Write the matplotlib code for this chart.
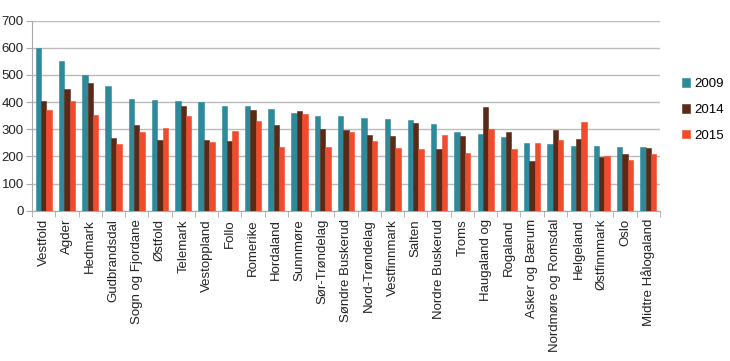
import numpy as np
import matplotlib.pyplot as plt

plt.rcParams['font.family'] = ['Liberation Sans', 'DejaVu Sans']

# Regions and values
regions = ["Vestfold", "Agder", "Hedmark", "Gudbrandsdal", "Sogn og Fjordane",
           "Østfold", "Telemark", "Vestoppland", "Follo", "Romerike", "Hordaland",
           "Sunnmøre", "Sør-Trøndelag", "Søndre Buskerud", "Nord-Trøndelag",
           "Vestfinnmark", "Salten", "Nordre Buskerud", "Troms", "Haugaland og",
           "Rogaland", "Asker og Bærum", "Nordmøre og Romsdal", "Helgeland",
           "Østfinnmark", "Oslo", "Midtre Hålogaland"]
v2009 = [600, 553, 500, 459, 412, 408, 403, 399, 386, 385, 375, 361, 348, 348,
         342, 337, 335, 318, 290, 283, 273, 248, 247, 238, 237, 233, 233]
v2014 = [405, 450, 470, 268, 315, 262, 386, 262, 256, 371, 315, 368, 301, 298,
         280, 274, 323, 228, 275, 381, 290, 183, 298, 265, 197, 210, 230]
v2015 = [371, 405, 354, 245, 290, 306, 348, 252, 295, 330, 235, 356, 235, 289,
         257, 230, 227, 278, 211, 301, 228, 248, 260, 328, 201, 186, 209]
years = ["2009", "2014", "2015"]
colors = ["#2E8A9B", "#5B2A17", "#F04B2C"]

fig = plt.figure(figsize=(7.3, 3.61), dpi=100)
ax = fig.add_axes([0.044, 0.4163, 0.860, 0.5264])

x = np.arange(len(regions))
w = 0.23
for i, (vals, col, yr) in enumerate(zip([v2009, v2014, v2015], colors, years)):
    ax.bar(x + (i - 1) * w, vals, width=w, color=col, label=yr, zorder=3,
           edgecolor=col, linewidth=0.4)

ax.set_xlim(-0.5, len(regions) - 0.5)
ax.set_ylim(0, 700)
ax.set_yticks(range(0, 701, 100))
ax.yaxis.grid(True, color="#BBBBBB", linewidth=1.0, zorder=0)

ax.set_xticks(x)
ax.set_xticklabels(regions, rotation=90, fontsize=9.5, color="#222222")
ax.set_xticks(np.arange(-0.5, len(regions), 1), minor=True)
ax.tick_params(axis="x", which="major", length=0, pad=6)
ax.tick_params(axis="x", which="minor", length=4, color="#AAAAAA")
ax.tick_params(axis="y", length=4, color="#AAAAAA", labelsize=9.5,
               labelcolor="#222222", pad=2)

for s in ["top", "right"]:
    ax.spines[s].set_visible(False)
for s in ["left", "bottom"]:
    ax.spines[s].set_color("#AAAAAA")

ax.legend(loc="center left", bbox_to_anchor=(1.035, 0.53), frameon=False,
          fontsize=9.5, handlelength=0.6, handleheight=0.6, labelspacing=1.05,
          handletextpad=0.35, borderaxespad=0, borderpad=0)

fig.savefig("out.png", dpi=100)
